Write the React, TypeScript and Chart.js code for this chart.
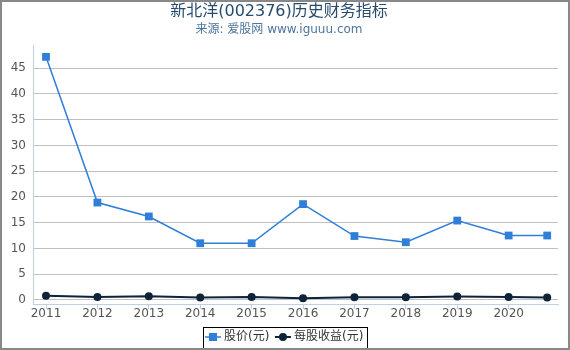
import React, { useEffect, useRef } from 'react';
import { Chart, registerables } from 'chart.js';

Chart.register(...registerables);

const titleText = '新北洋(002376)历史财务指标';
const subtitleText = '来源: 爱股网 www.iguuu.com';

// x positions of the points (years; the last one is a partial year)
const periods = [2011, 2012, 2013, 2014, 2015, 2016, 2017, 2018, 2019, 2020, 2020.75];
const xTickYears = [2011, 2012, 2013, 2014, 2015, 2016, 2017, 2018, 2019, 2020];
const xTickLabels = ['2011', '2012', '2013', '2014', '2015', '2016', '2017', '2018', '2019', '2020'];

const priceValues = [47.2, 18.9, 16.2, 11.0, 11.0, 18.6, 12.4, 11.2, 15.4, 12.5, 12.5];
const epsValues = [0.78, 0.58, 0.72, 0.45, 0.58, 0.33, 0.52, 0.52, 0.64, 0.58, 0.45];
const seriesNames = ['股价(元)', '每股收益(元)'];

const FONT = "'DejaVu Sans', 'Noto Sans CJK SC', sans-serif";
const PRICE_COLOR = '#2f7ed8';
const EPS_COLOR = '#0d233a';

const boxLegendPlugin = {
  id: 'boxLegend',
  afterDraw(chart: any) {
    const ctx = chart.ctx as CanvasRenderingContext2D;
    ctx.save();
    ctx.font = `12px ${FONT}`;
    const lineLen = 16;
    const textGap = 3;
    const itemGap = 5.6;
    const padL = 2;
    const padR = 4;
    const datasets = chart.data.datasets;
    const widths = datasets.map((ds: any) => ctx.measureText(ds.label).width);
    let total = padL + padR;
    widths.forEach((w: number, i: number) => {
      total += lineLen + textGap + w + (i > 0 ? itemGap : 0);
    });
    const left = Math.round((chart.width - total) / 2);
    const top = 327;
    const h = 21;
    const cy = 337;
    ctx.strokeStyle = '#000';
    ctx.lineWidth = 1;
    ctx.strokeRect(left + 0.5, top + 0.5, Math.round(total), h);
    let x = left + padL;
    datasets.forEach((ds: any, i: number) => {
      ctx.strokeStyle = ds.borderColor;
      ctx.lineWidth = ds.borderWidth;
      ctx.beginPath();
      ctx.moveTo(x, cy);
      ctx.lineTo(x + lineLen, cy);
      ctx.stroke();
      ctx.fillStyle = ds.backgroundColor;
      const mx = x + lineLen / 2;
      if (ds.pointStyle === 'rect') {
        ctx.fillRect(mx - 4, cy - 4, 8, 8);
      } else {
        ctx.beginPath();
        ctx.arc(mx, cy, 4, 0, Math.PI * 2);
        ctx.fill();
      }
      ctx.fillStyle = '#333';
      ctx.textBaseline = 'middle';
      ctx.textAlign = 'left';
      ctx.fillText(ds.label, x + lineLen + textGap, cy);
      x += lineLen + textGap + widths[i] + itemGap;
    });
    ctx.restore();
  },
};

const frameBorderPlugin = {
  id: 'frameBorder',
  afterDraw(chart: any) {
    const ctx = chart.ctx as CanvasRenderingContext2D;
    ctx.save();
    ctx.strokeStyle = '#888';
    ctx.lineWidth = 2;
    ctx.strokeRect(1, 1, chart.width - 2, chart.height - 2);
    ctx.restore();
  },
};

export default function App() {
  const canvasRef = useRef<HTMLCanvasElement | null>(null);

  useEffect(() => {
    const canvas = canvasRef.current;
    if (!canvas) return;
    const chart = new Chart(canvas, {
      type: 'line',
      data: {
        datasets: [
          {
            label: seriesNames[0],
            data: periods.map((x, i) => ({ x, y: priceValues[i] })),
            borderColor: PRICE_COLOR,
            backgroundColor: PRICE_COLOR,
            borderWidth: 1.5,
            pointStyle: 'rect',
            pointRadius: 5.5,
            pointBorderWidth: 0,
            tension: 0,
          },
          {
            label: seriesNames[1],
            data: periods.map((x, i) => ({ x, y: epsValues[i] })),
            borderColor: EPS_COLOR,
            backgroundColor: EPS_COLOR,
            borderWidth: 2,
            pointStyle: 'circle',
            pointRadius: 4,
            pointBorderWidth: 0,
            tension: 0,
          },
        ],
      },
      options: {
        responsive: false,
        animation: false,
        events: [],
        layout: { padding: { left: 0, right: 12, top: 0, bottom: 30.6 } },
        plugins: {
          legend: { display: false },
          tooltip: { enabled: false },
          title: {
            display: true,
            text: titleText,
            color: '#274b6d',
            font: { family: FONT, size: 16, weight: 'normal' },
            padding: { top: 2, bottom: 0 },
          },
          subtitle: {
            display: true,
            text: subtitleText,
            color: '#4d759e',
            font: { family: FONT, size: 12, weight: 'normal' },
            padding: { top: 1, bottom: 8.4 },
          },
        },
        scales: {
          x: {
            type: 'linear',
            min: 2010.747,
            max: 2020.96,
            afterBuildTicks: (s: any) => {
              s.ticks = xTickYears.map((v) => ({ value: v }));
            },
            ticks: {
              autoSkip: false,
              maxRotation: 0,
              padding: -2,
              color: '#555',
              font: { family: FONT, size: 12 },
              callback: (v: any) => {
                const i = xTickYears.indexOf(Number(v));
                return i >= 0 ? xTickLabels[i] : '';
              },
            },
            grid: { drawOnChartArea: false, drawTicks: true, tickLength: 5, tickColor: '#C0D0E0' },
            border: { color: '#C0D0E0' },
          },
          y: {
            min: -0.8,
            max: 49.5,
            afterFit: (s: any) => {
              s.width = 33;
            },
            ticks: {
              stepSize: 5,
              includeBounds: false,
              padding: 7,
              color: '#555',
              font: { family: FONT, size: 12 },
            },
            grid: { color: '#C0C0C0', drawTicks: false },
            border: { color: '#C0D0E0' },
          },
        },
      },
      plugins: [boxLegendPlugin, frameBorderPlugin],
    } as any);
    return () => chart.destroy();
  }, []);

  return (
    <div style={{ position: 'absolute', left: 0, top: 0, width: 570, height: 350, background: '#fff' }}>
      <canvas ref={canvasRef} width={570} height={350} style={{ display: 'block' }} />
    </div>
  );
}
